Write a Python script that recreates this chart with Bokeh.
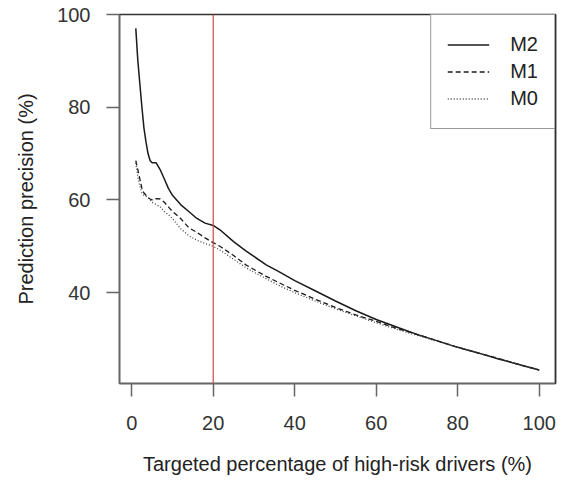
from bokeh.plotting import figure
from bokeh.models import Range1d, FixedTicker, Span, Legend, LegendItem, LinearAxis
from bokeh.embed import file_html
from bokeh.resources import INLINE

# Targeted percentage of high-risk drivers (%)
pct = [1, 1.5, 2, 2.5, 3, 3.5, 4, 4.5, 5, 6, 7, 8, 9, 10, 12, 14, 16, 18, 20,
       22, 25, 28, 30, 33, 36, 40, 45, 50, 55, 60, 65, 70, 75, 80, 85, 90, 95, 100]
# Prediction precision (%)
m2 = [97, 90, 85, 80, 75.5, 72.5, 70, 68.5, 68, 68, 66.5, 64.5, 62.5, 61, 59, 57.5, 56, 55, 54.5,
      53.3, 51, 49, 47.8, 46, 44.6, 42.6, 40.4, 38.2, 36.1, 34.2, 32.6, 31, 29.6, 28.2, 27, 25.7, 24.5, 23.3]
m1 = [68.5, 66.5, 64.5, 62.5, 61.5, 61, 60.5, 60.2, 60, 60.3, 60.2, 59.5, 58.5, 57.5, 56, 54, 53, 51.8, 50.8,
      49.8, 48, 46, 45, 43.5, 42.2, 40.5, 38.6, 36.8, 35.2, 33.8, 32.3, 31, 29.6, 28.2, 27, 25.8, 24.5, 23.3]
m0 = [68, 65, 63, 61.5, 61, 60.8, 60.5, 60, 59.5, 59, 58.5, 57.5, 56.8, 56, 53.8, 52.3, 51.3, 50.6, 50,
      49, 47.2, 45.4, 44.4, 43, 41.6, 40, 38.2, 36.5, 35, 33.5, 32.1, 30.8, 29.5, 28.2, 27, 25.8, 24.5, 23.3]
x_ticks = [0, 20, 40, 60, 80, 100]
y_ticks = [40, 60, 80, 100]
cutoff = 20

FONT = "Liberation Sans"

p = figure(width=559, height=482, output_backend="svg", toolbar_location=None,
           x_range=Range1d(-3, 104), y_range=Range1d(20.4, 100),
           min_border_left=119, min_border_right=4, min_border_top=14, min_border_bottom=99)
p.grid.visible = False
p.background_fill_color = "white"
p.border_fill_color = "white"
p.outline_line_color = "#333333"
p.outline_line_width = 1.5

p.xaxis.ticker = FixedTicker(ticks=x_ticks)
p.yaxis.ticker = FixedTicker(ticks=y_ticks)
for ax in (p.xaxis, p.yaxis):
    ax.axis_line_color = "#666666"
    ax.axis_line_width = 1.5
    ax.major_tick_out = 13
    ax.major_tick_in = 0
    ax.major_tick_line_color = "#666666"
    ax.major_tick_line_width = 1.5
    ax.minor_tick_line_color = None
    ax.major_label_text_font = FONT
    ax.major_label_text_font_size = "20px"
    ax.major_label_text_color = "#333333"
    ax.axis_label_text_font = FONT
    ax.axis_label_text_font_size = "20px"
    ax.axis_label_text_font_style = "normal"
    ax.axis_label_text_color = "#222222"

p.xaxis.axis_label = "Targeted percentage of high-risk drivers (%)"
p.yaxis.axis_label = "Prediction precision (%)"
p.xaxis.major_label_standoff = 19
p.yaxis.major_label_standoff = 16
p.xaxis.axis_label_standoff = 20
p.yaxis.axis_label_standoff = 17

# plain right border line (box side)
right_box = LinearAxis(ticker=FixedTicker(ticks=[]), axis_line_color="#333333", axis_line_width=1.5,
                       major_tick_line_color=None, minor_tick_line_color=None,
                       major_label_text_alpha=0)
p.add_layout(right_box, "right")

p.add_layout(Span(location=cutoff, dimension="height", line_color="#d04848", line_width=1.2))

r2 = p.line(pct, m2, line_color="#1a1a1a", line_width=1.5)
r1 = p.line(pct, m1, line_color="#1a1a1a", line_width=1.3, line_dash="5 3")
r0 = p.line(pct, m0, line_color="#444444", line_width=1.3, line_dash="1 2")

legend = Legend(items=[LegendItem(label="M2", renderers=[r2]),
                       LegendItem(label="M1", renderers=[r1]),
                       LegendItem(label="M0", renderers=[r0])],
                location="top_right", margin=0, padding=16, spacing=0,
                glyph_width=42, glyph_height=27, label_height=27, label_standoff=21,
                label_text_font=FONT, label_text_font_size="20px", label_text_color="#222222",
                border_line_color="#333333", border_line_width=1.5,
                background_fill_color="white", background_fill_alpha=1)
p.add_layout(legend)

open("out.html", "w").write(file_html(p, INLINE))
